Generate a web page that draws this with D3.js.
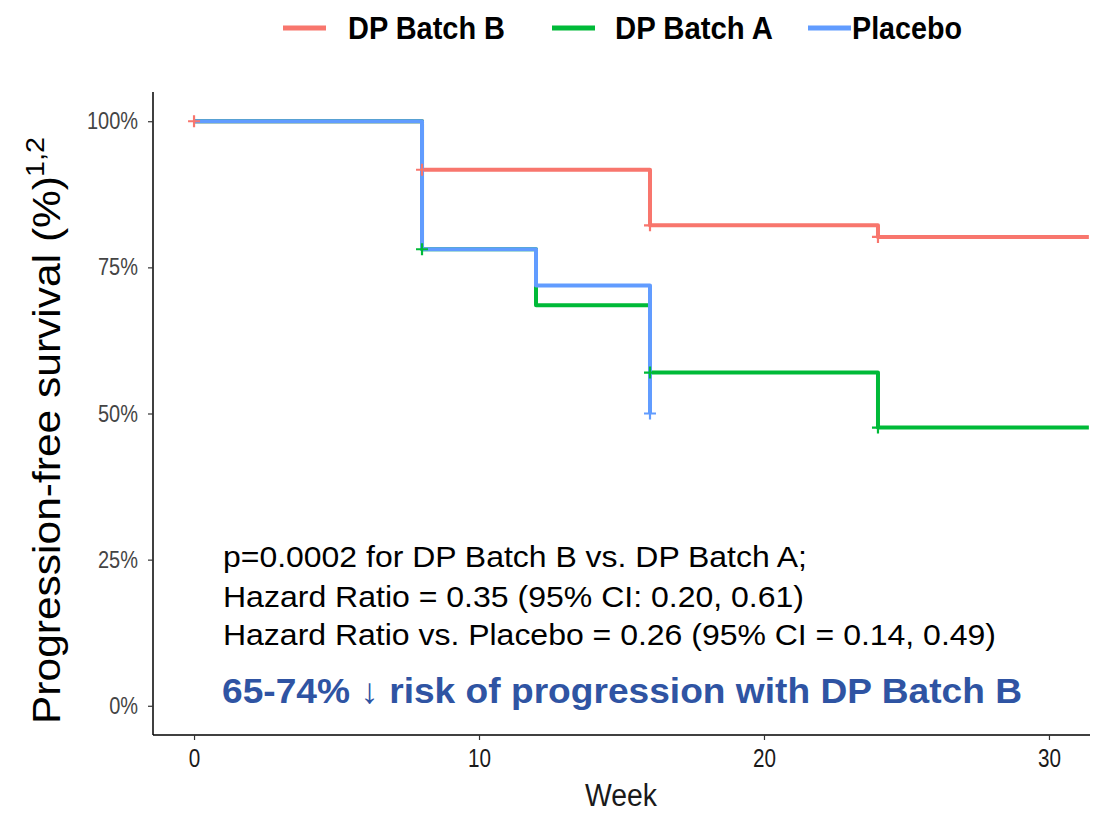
<!DOCTYPE html>
<html>
<head>
<meta charset="utf-8">
<script src="https://cdn.jsdelivr.net/npm/d3@7"></script>
<style>
  html, body { margin: 0; padding: 0; background: #ffffff; }
  svg { display: block; }
  text { font-family: "Liberation Sans", Arial, Helvetica, sans-serif; }
</style>
</head>
<body>
<svg id="chart" width="1106" height="813"></svg>
<script>
// ---------- data ----------
const seriesNames = ["DP Batch B", "DP Batch A", "Placebo"];
const seriesColors = ["#F8766D", "#00BA38", "#619CFF"];

// step-change times (weeks) and survival after each time
const batchBTimes = [0, 8, 16, 24];
const batchBSurv  = [1.00, 0.917, 0.822, 0.802];
const batchBEnd   = 31.4;
const batchBCensorTimes = [0, 8, 16, 24];
const batchBCensorSurv  = [1.00, 0.917, 0.822, 0.802];

const batchATimes = [0, 8, 12, 16, 24];
const batchASurv  = [1.00, 0.781, 0.685, 0.570, 0.476];
const batchAEnd   = 31.4;
const batchACensorTimes = [8, 16, 24];
const batchACensorSurv  = [0.781, 0.570, 0.476];

const placeboTimes = [0, 8, 12, 16];
const placeboSurv  = [1.00, 0.781, 0.719, 0.500];
const placeboEnd   = 16;
const placeboCensorTimes = [16];
const placeboCensorSurv  = [0.500];

const xTicks = [0, 10, 20, 30];
const yTicks = [0, 0.25, 0.5, 0.75, 1.0];
const yTickLabels = ["0%", "25%", "50%", "75%", "100%"];

const annotationLines = [
  "p=0.0002 for DP Batch B vs. DP Batch A;",
  "Hazard Ratio = 0.35 (95% CI: 0.20, 0.61)",
  "Hazard Ratio vs. Placebo = 0.26 (95% CI = 0.14, 0.49)"
];
const highlightText = "65-74% \u2193 risk of progression with DP Batch B";

// ---------- layout ----------
const svg = d3.select("#chart");
const pLeft = 153, pRight = 1090, pTop = 92, pBottom = 735;

const x = d3.scaleLinear().domain([-1.44, 31.44]).range([pLeft, pRight]);
const y = d3.scaleLinear().domain([-0.05, 1.05]).range([pBottom, pTop]);

// ---------- axes ----------
const yAxis = d3.axisLeft(y).tickValues(yTicks)
  .tickFormat((d, i) => yTickLabels[i]).tickSizeOuter(0).tickSize(5).tickPadding(10);
const xAxis = d3.axisBottom(x).tickValues(xTicks).tickSizeOuter(0).tickSize(5).tickPadding(8);

const gy = svg.append("g").attr("transform", `translate(${pLeft},0)`).call(yAxis);
gy.select(".domain").attr("d", `M0,${pTop}V${pBottom}`).attr("stroke", "#000").attr("stroke-width", 1.5);
gy.selectAll(".tick line").attr("stroke", "#333").attr("stroke-width", 1.2);
gy.selectAll(".tick text").attr("fill", "#444").attr("font-size", 23.5)
  .style("font-family", "'Liberation Sans', Arial, sans-serif")
  .each(function(){ const w=this.getComputedTextLength(); d3.select(this).attr("textLength", w*0.85).attr("lengthAdjust","spacingAndGlyphs"); });

const gx = svg.append("g").attr("transform", `translate(0,${pBottom})`).call(xAxis);
gx.select(".domain").attr("d", `M${pLeft},0H${pRight}`).attr("stroke", "#000").attr("stroke-width", 1.5);
gx.selectAll(".tick line").attr("stroke", "#333").attr("stroke-width", 1.2);
gx.selectAll(".tick text").attr("fill", "#1a1a1a").attr("font-size", 26.5)
  .style("font-family", "'Liberation Sans', Arial, sans-serif")
  .each(function(){ const w=this.getComputedTextLength(); d3.select(this).attr("textLength", w*0.78).attr("lengthAdjust","spacingAndGlyphs"); });

// ---------- curves ----------
const series = [
  {times: batchBTimes, surv: batchBSurv, end: batchBEnd, ct: batchBCensorTimes, cs: batchBCensorSurv, color: seriesColors[0]},
  {times: batchATimes, surv: batchASurv, end: batchAEnd, ct: batchACensorTimes, cs: batchACensorSurv, color: seriesColors[1]},
  {times: placeboTimes, surv: placeboSurv, end: placeboEnd, ct: placeboCensorTimes, cs: placeboCensorSurv, color: seriesColors[2]}
];

const line = d3.line().x(d => x(d[0])).y(d => y(d[1])).curve(d3.curveStepAfter);

series.forEach(s => {
  const pts = s.times.map((t, i) => [t, s.surv[i]]);
  pts.push([s.end, s.surv[s.surv.length - 1]]);
  svg.append("path").attr("d", line(pts)).attr("fill", "none")
    .attr("stroke", s.color).attr("stroke-width", 4).attr("stroke-linejoin", "round");
});

const arm = 6;
series.forEach(s => {
  s.ct.forEach((t, i) => {
    const cx = x(t), cy = y(s.cs[i]);
    svg.append("path").attr("d", `M${cx-arm},${cy}H${cx+arm}M${cx},${cy-arm}V${cy+arm}`)
      .attr("stroke", s.color).attr("stroke-width", 2.2).attr("fill", "none");
  });
});

// ---------- legend ----------
const legendItems = [
  {name: seriesNames[0], color: seriesColors[0], lx: 283, tx: 348, tw: 157},
  {name: seriesNames[1], color: seriesColors[1], lx: 552, tx: 615, tw: 158},
  {name: seriesNames[2], color: seriesColors[2], lx: 808, tx: 852, tw: 110}
];
const lg = svg.append("g");
legendItems.forEach(d => {
  lg.append("line").attr("x1", d.lx).attr("x2", d.lx + 43).attr("y1", 28).attr("y2", 28)
    .attr("stroke", d.color).attr("stroke-width", 5);
  lg.append("text").attr("x", d.tx).attr("y", 39).attr("font-size", 31).attr("font-weight", "bold")
    .attr("fill", "#000").attr("textLength", d.tw).attr("lengthAdjust", "spacingAndGlyphs").text(d.name);
});

// ---------- axis titles ----------
svg.append("text").attr("x", 621).attr("y", 806).attr("text-anchor", "middle")
  .attr("font-size", 31).attr("fill", "#1a1a1a").attr("textLength", 72).attr("lengthAdjust", "spacingAndGlyphs")
  .text("Week");

const yt = svg.append("g").attr("transform", "rotate(-90)");
yt.append("text").attr("x", -724).attr("y", 60).attr("font-size", 38).attr("fill", "#000")
  .attr("textLength", 548).attr("lengthAdjust", "spacingAndGlyphs")
  .text("Progression-free survival (%)");
yt.append("text").attr("x", -177).attr("y", 44).attr("font-size", 25).attr("fill", "#000")
  .attr("textLength", 40).attr("lengthAdjust", "spacingAndGlyphs")
  .text("1,2");

// ---------- annotations ----------
const annWidths = [584, 581, 773];
const annY = [567, 607, 645];
annotationLines.forEach((t, i) => {
  svg.append("text").attr("x", 223).attr("y", annY[i]).attr("font-size", 29.5).attr("fill", "#000")
    .attr("textLength", annWidths[i]).attr("lengthAdjust", "spacingAndGlyphs").text(t);
});
svg.append("text").attr("x", 222).attr("y", 703).attr("font-size", 35).attr("font-weight", "bold")
  .attr("fill", "#2F54A3").attr("textLength", 800).attr("lengthAdjust", "spacingAndGlyphs").text(highlightText);
</script>
</body>
</html>
